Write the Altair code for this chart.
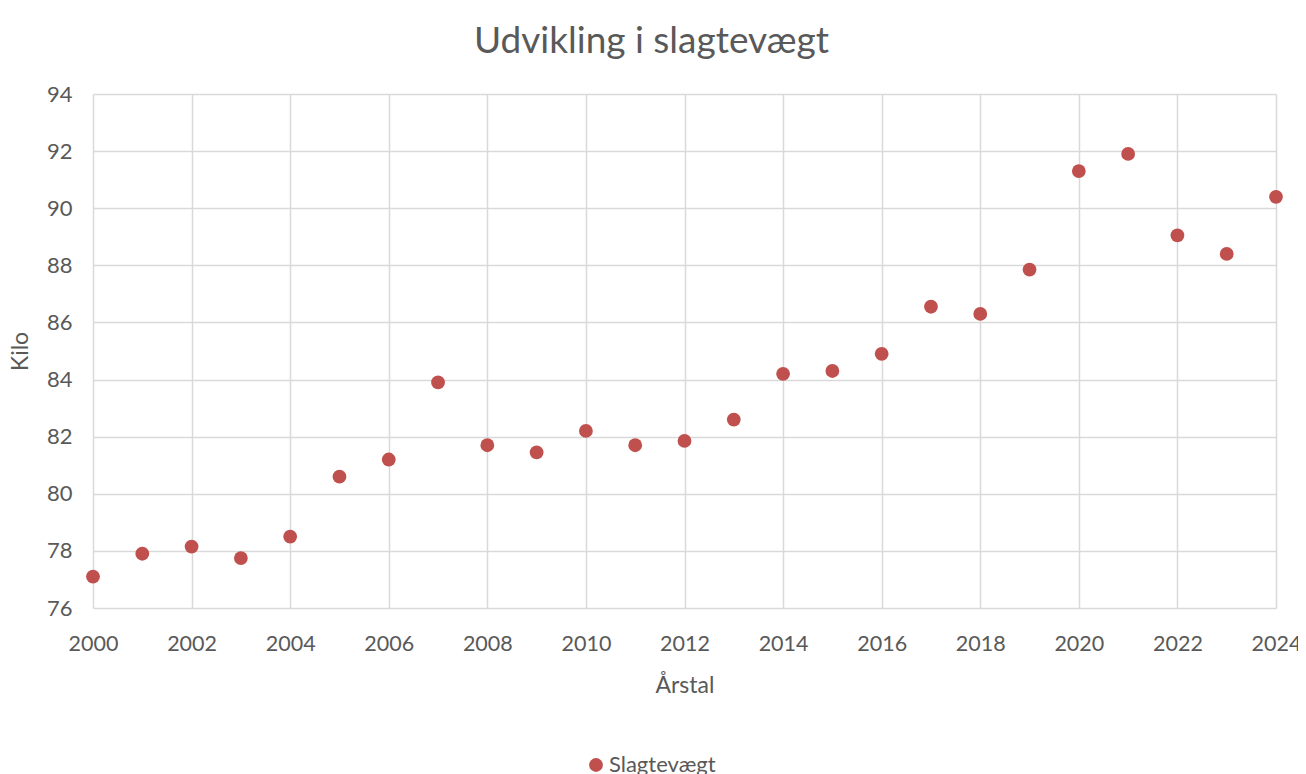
import altair as alt
import pandas as pd

years = list(range(2000, 2025))
weights = [77.1, 77.9, 78.15, 77.75, 78.5, 80.6, 81.2, 83.9, 81.7, 81.45,
           82.2, 81.7, 81.85, 82.6, 84.2, 84.3, 84.9, 86.55, 86.3, 87.85,
           91.3, 91.9, 89.05, 88.4, 90.4]
series = ["Slagtevægt"] * len(years)

df = pd.DataFrame({"Årstal": years, "Kilo": weights, "Serie": series})

FONT = "Lato, Open Sans, sans-serif"
GRAY = "#595959"

chart = alt.Chart(df).mark_circle(size=190, opacity=1).encode(
    x=alt.X("Årstal:Q",
            scale=alt.Scale(domain=[2000, 2024], nice=False, zero=False),
            axis=alt.Axis(values=list(range(2000, 2025, 2)), format="d",
                          title="Årstal", titlePadding=20, labelFlush=False,
                          labelFontSize=21.5, labelPadding=25)),
    y=alt.Y("Kilo:Q",
            scale=alt.Scale(domain=[76, 94], nice=False, zero=False),
            axis=alt.Axis(values=list(range(76, 95, 2)), title="Kilo",
                          titlePadding=14, labelFontSize=22, labelPadding=21)),
    color=alt.Color("Serie:N", scale=alt.Scale(range=["#c0504d"]),
                    legend=alt.Legend(title=None, orient="none",
                                      legendX=492, legendY=660,
                                      symbolSize=190, labelFontSize=22,
                                      labelFont=FONT, labelColor=GRAY,
                                      symbolType="circle", labelOffset=2)),
).properties(
    width=1183, height=514,
    title=alt.Title("Udvikling i slagtevægt", fontSize=37, font=FONT,
                    color=GRAY, fontWeight="normal", anchor="middle",
                    dx=-33, offset=22),
    autosize=alt.AutoSizeParams(type="none"),
    padding={"left": 85, "top": 86, "right": 22, "bottom": 175},
).configure_view(stroke=None).configure_axis(
    grid=True, gridColor="#d9d9d9", gridWidth=1.5, domain=False, ticks=False,
    labelFont=FONT, labelColor=GRAY,
    titleFont=FONT, titleFontSize=23, titleColor=GRAY, titleFontWeight="normal",
)

chart.save("out.html", embed_options={"renderer": "svg", "actions": False})
